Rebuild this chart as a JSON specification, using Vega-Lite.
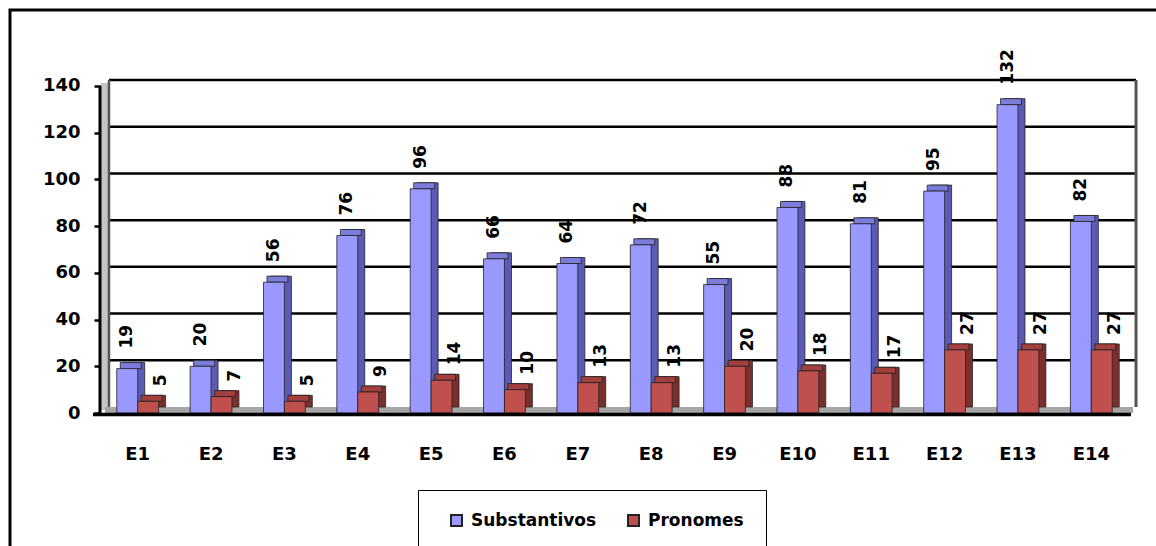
{
  "$schema": "https://vega.github.io/schema/vega-lite/v6.json",
  "width": 1156,
  "height": 546,
  "autosize": "none",
  "padding": {"left": 10, "top": 10, "right": -10, "bottom": -10},
  "background": "white",
  "config": {
    "view": {"stroke": "#000", "strokeWidth": 3, "fill": "white"},
    "axisX": {"offset": -143, "domain": false, "ticks": false, "tickSize": 0, "grid": false, "labelPadding": 32, "labelAngle": 0, "labelFont": "DejaVu Sans", "labelFontSize": 18, "labelFontWeight": "bold", "labelColor": "#000"},
    "axisY": {"offset": -91, "domain": false, "grid": false, "ticks": true, "tickSize": 7, "tickWidth": 2.5, "tickColor": "#000", "labelPadding": 14, "labelFont": "DejaVu Sans", "labelFontSize": 18, "labelFontWeight": "bold", "labelColor": "#000"},
    "text": {"font": "DejaVu Sans", "fontSize": 17, "fontWeight": "bold", "fill": "#000"}
  },
  "datasets": {
    "d": [
      {"cat": "E1", "s": "Substantivos", "value": 19}, {"cat": "E1", "s": "Pronomes", "value": 5},
      {"cat": "E2", "s": "Substantivos", "value": 20}, {"cat": "E2", "s": "Pronomes", "value": 7},
      {"cat": "E3", "s": "Substantivos", "value": 56}, {"cat": "E3", "s": "Pronomes", "value": 5},
      {"cat": "E4", "s": "Substantivos", "value": 76}, {"cat": "E4", "s": "Pronomes", "value": 9},
      {"cat": "E5", "s": "Substantivos", "value": 96}, {"cat": "E5", "s": "Pronomes", "value": 14},
      {"cat": "E6", "s": "Substantivos", "value": 66}, {"cat": "E6", "s": "Pronomes", "value": 10},
      {"cat": "E7", "s": "Substantivos", "value": 64}, {"cat": "E7", "s": "Pronomes", "value": 13},
      {"cat": "E8", "s": "Substantivos", "value": 72}, {"cat": "E8", "s": "Pronomes", "value": 13},
      {"cat": "E9", "s": "Substantivos", "value": 55}, {"cat": "E9", "s": "Pronomes", "value": 20},
      {"cat": "E10", "s": "Substantivos", "value": 88}, {"cat": "E10", "s": "Pronomes", "value": 18},
      {"cat": "E11", "s": "Substantivos", "value": 81}, {"cat": "E11", "s": "Pronomes", "value": 17},
      {"cat": "E12", "s": "Substantivos", "value": 95}, {"cat": "E12", "s": "Pronomes", "value": 27},
      {"cat": "E13", "s": "Substantivos", "value": 132}, {"cat": "E13", "s": "Pronomes", "value": 27},
      {"cat": "E14", "s": "Substantivos", "value": 82}, {"cat": "E14", "s": "Pronomes", "value": 27}
    ],
    "grid": [{"g": 20}, {"g": 40}, {"g": 60}, {"g": 80}, {"g": 100}, {"g": 120}, {"g": 140}],
    "one": [{"k": 1}]
  },
  "layer": [
    {
      "data": {"name": "one"},
      "mark": {"type": "rule", "stroke": "#C4C4C4", "strokeWidth": 8, "xOffset": -32.7, "yOffset": -3, "y2Offset": -3},
      "encoding": {
        "x": {"datum": "E1", "type": "nominal", "title": null, "scale": {"domain": ["E1","E2","E3","E4","E5","E6","E7","E8","E9","E10","E11","E12","E13","E14"], "paddingInner": 0, "paddingOuter": 0.87927, "align": 0.70543}},
        "y": {"datum": 0, "type": "quantitative", "title": null, "scale": {"domain": [-61.223, 172.538], "nice": false, "zero": false}},
        "y2": {"datum": 140}
      }
    },
    {
      "data": {"name": "one"},
      "mark": {"type": "rule", "stroke": "#A6A6A6", "strokeWidth": 6, "xOffset": -32.7, "x2Offset": 41.7, "yOffset": -3, "y2Offset": -3},
      "encoding": {
        "x": {"datum": "E1", "type": "nominal", "title": null},
        "x2": {"datum": "E14"},
        "y": {"datum": 0, "type": "quantitative", "title": null}
      }
    },
    {
      "data": {"name": "grid"},
      "mark": {"type": "rule", "stroke": "#000", "strokeWidth": 2.5, "xOffset": -28.7, "x2Offset": 44.7, "yOffset": -6, "y2Offset": -6},
      "encoding": {
        "x": {"datum": "E1", "type": "nominal", "title": null},
        "x2": {"datum": "E14"},
        "y": {"field": "g", "type": "quantitative", "title": null}
      }
    },
    {
      "data": {"name": "one"},
      "mark": {"type": "rule", "stroke": "#555", "strokeWidth": 2.5, "xOffset": -28.7, "yOffset": -6, "y2Offset": -6},
      "encoding": {
        "x": {"datum": "E1", "type": "nominal", "title": null},
        "y": {"datum": 0, "type": "quantitative", "title": null},
        "y2": {"datum": 140}
      }
    },
    {
      "data": {"name": "one"},
      "mark": {"type": "rule", "stroke": "#555", "strokeWidth": 3, "xOffset": 44.7, "yOffset": -6, "y2Offset": -6},
      "encoding": {
        "x": {"datum": "E14", "type": "nominal", "title": null},
        "y": {"datum": 0, "type": "quantitative", "title": null},
        "y2": {"datum": 140}
      }
    },
    {
      "data": {"name": "d"},
      "transform": [{"filter": "datum.s === 'Substantivos'"}],
      "mark": {"type": "bar", "width": {"band": 0.285}, "color": "#5B5BB5", "stroke": "#222", "strokeWidth": 0.8, "xOffset": -3.45, "x2Offset": -3.45, "yOffset": -6, "y2Offset": -6},
      "encoding": {
        "x": {"field": "cat", "type": "nominal", "title": null},
        "y": {"field": "value", "type": "quantitative", "title": null},
        "y2": {"datum": 0}
      }
    },
    {
      "data": {"name": "d"},
      "transform": [{"filter": "datum.s === 'Substantivos'"}],
      "mark": {"type": "bar", "width": {"band": 0.285}, "color": "#7C7CDA", "stroke": "#222", "strokeWidth": 0.8, "xOffset": -6.95, "x2Offset": -6.95, "yOffset": -6, "y2Offset": 0},
      "encoding": {
        "x": {"field": "cat", "type": "nominal", "title": null},
        "y": {"field": "value", "type": "quantitative", "title": null},
        "y2": {"field": "value"}
      }
    },
    {
      "data": {"name": "d"},
      "transform": [{"filter": "datum.s === 'Substantivos'"}],
      "mark": {"type": "bar", "width": {"band": 0.285}, "stroke": "#222", "strokeWidth": 0.8, "xOffset": -10.45, "x2Offset": -10.45},
      "encoding": {
        "x": {"field": "cat", "type": "nominal", "title": null},
        "y": {"field": "value", "type": "quantitative", "title": null, "axis": {"values": [0, 20, 40, 60, 80, 100, 120, 140]}},
        "y2": {"datum": 0},
        "color": {
          "field": "s", "type": "nominal",
          "scale": {"domain": ["Substantivos", "Pronomes"], "range": ["#9999FF", "#C0504D"]},
          "legend": {
            "title": null, "orient": "none", "legendX": 408, "legendY": 480, "direction": "horizontal",
            "strokeColor": "#000", "padding": 22, "symbolOffset": 8, "symbolType": "square", "symbolSize": 121,
            "symbolStrokeColor": "#000", "symbolStrokeWidth": 2, "labelOffset": 6, "columnPadding": 20,
            "labelFont": "DejaVu Sans", "labelFontSize": 17, "labelFontWeight": "bold", "labelColor": "#000"
          }
        }
      }
    },
    {
      "data": {"name": "d"},
      "transform": [{"filter": "datum.s === 'Pronomes'"}],
      "mark": {"type": "bar", "width": {"band": 0.285}, "color": "#7B2F2D", "stroke": "#222", "strokeWidth": 0.8, "xOffset": 17.45, "x2Offset": 17.45, "yOffset": -6, "y2Offset": -6},
      "encoding": {
        "x": {"field": "cat", "type": "nominal", "title": null},
        "y": {"field": "value", "type": "quantitative", "title": null},
        "y2": {"datum": 0}
      }
    },
    {
      "data": {"name": "d"},
      "transform": [{"filter": "datum.s === 'Pronomes'"}],
      "mark": {"type": "bar", "width": {"band": 0.285}, "color": "#A3403D", "stroke": "#222", "strokeWidth": 0.8, "xOffset": 13.95, "x2Offset": 13.95, "yOffset": -6, "y2Offset": 0},
      "encoding": {
        "x": {"field": "cat", "type": "nominal", "title": null},
        "y": {"field": "value", "type": "quantitative", "title": null},
        "y2": {"field": "value"}
      }
    },
    {
      "data": {"name": "d"},
      "transform": [{"filter": "datum.s === 'Pronomes'"}],
      "mark": {"type": "bar", "width": {"band": 0.285}, "stroke": "#222", "strokeWidth": 0.8, "xOffset": 10.45, "x2Offset": 10.45},
      "encoding": {
        "x": {"field": "cat", "type": "nominal", "title": null},
        "y": {"field": "value", "type": "quantitative", "title": null},
        "y2": {"datum": 0},
        "color": {"field": "s", "type": "nominal"}
      }
    },
    {
      "data": {"name": "one"},
      "mark": {"type": "rule", "stroke": "#000", "strokeWidth": 3, "xOffset": -37.7},
      "encoding": {
        "x": {"datum": "E1", "type": "nominal", "title": null},
        "y": {"datum": 0, "type": "quantitative", "title": null},
        "y2": {"datum": 140}
      }
    },
    {
      "data": {"name": "one"},
      "mark": {"type": "rule", "stroke": "#000", "strokeWidth": 3.5, "xOffset": -44.7, "x2Offset": 39.7, "yOffset": 1.5, "y2Offset": 1.5},
      "encoding": {
        "x": {"datum": "E1", "type": "nominal", "title": null},
        "x2": {"datum": "E14"},
        "y": {"datum": 0, "type": "quantitative", "title": null}
      }
    },
    {
      "data": {"name": "d"},
      "transform": [{"filter": "datum.s === 'Substantivos'"}],
      "mark": {"type": "text", "angle": 270, "align": "left", "baseline": "middle", "dx": 20, "xOffset": -10.45},
      "encoding": {
        "x": {"field": "cat", "type": "nominal", "title": null},
        "y": {"field": "value", "type": "quantitative", "title": null},
        "text": {"field": "value", "type": "quantitative"}
      }
    },
    {
      "data": {"name": "d"},
      "transform": [{"filter": "datum.s === 'Pronomes'"}],
      "mark": {"type": "text", "angle": 270, "align": "left", "baseline": "middle", "dx": 15, "xOffset": 23.5},
      "encoding": {
        "x": {"field": "cat", "type": "nominal", "title": null},
        "y": {"field": "value", "type": "quantitative", "title": null},
        "text": {"field": "value", "type": "quantitative"}
      }
    }
  ]
}
